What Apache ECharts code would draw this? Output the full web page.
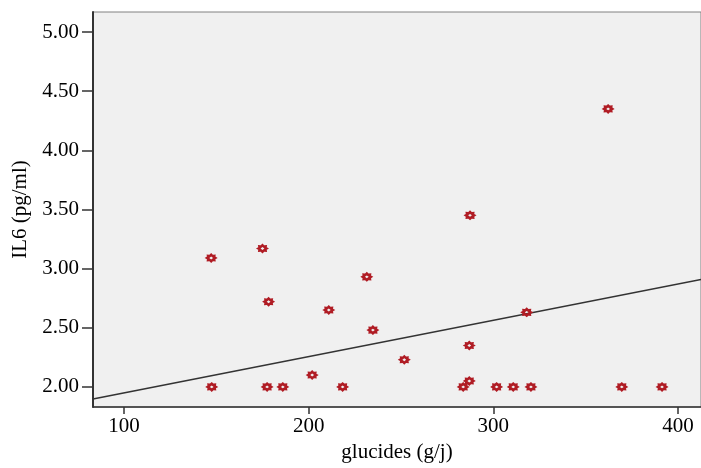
<!DOCTYPE html>
<html>
<head>
<meta charset="utf-8">
<script src="https://cdn.jsdelivr.net/npm/echarts@6/dist/echarts.min.js"></script>
<style>
html,body{margin:0;padding:0;background:#fff;}
#chart{width:701px;height:468px;}
</style>
</head>
<body>
<div id="chart"></div>
<script>
// glucides (g/j)
var glucides = [147.2, 175.0, 178.3, 147.5, 177.5, 186.0, 201.9, 218.4, 210.9, 231.5, 234.8, 251.8,
                287.4, 287.0, 287.0, 283.7, 301.8, 310.8, 320.4, 318.1, 362.2, 369.6, 391.4];
// IL6 (pg/ml)
var il6 = [3.09, 3.17, 2.72, 2.00, 2.00, 2.00, 2.10, 2.00, 2.65, 2.93, 2.48, 2.23,
           3.45, 2.35, 2.05, 2.00, 2.00, 2.00, 2.00, 2.63, 4.35, 2.00, 2.00];
// fit line end points
var fitX = [83.2, 412.5];
var fitY = [1.898, 2.908];
var xTicks = [100, 200, 300, 400];
var yTicks = [2.00, 2.50, 3.00, 3.50, 4.00, 4.50, 5.00];

var points = glucides.map(function (g, i) { return [g, il6[i]]; });
var fitLine = fitX.map(function (x, i) { return [x, fitY[i]]; });

var markerPath = 'path://M24,12 L19.85,15.25 L20.49,20.49 L15.25,19.85 L12,24 L8.75,19.85 L3.51,20.49 L4.15,15.25 L0,12 L4.15,8.75 L3.51,3.51 L8.75,4.15 L12,0 L15.25,4.15 L20.49,3.51 L19.85,8.75 Z M15.5,12 L12,8.5 L8.5,12 L12,15.5 Z';

var font = 'Liberation Serif';
var chart = echarts.init(document.getElementById('chart'), null, {renderer: 'canvas'});
chart.setOption({
  animation: false,
  backgroundColor: '#ffffff',
  grid: {
    left: 93, top: 12, right: 0, bottom: 57,
    show: true, backgroundColor: '#f0f0f0', borderColor: '#808080', borderWidth: 1
  },
  xAxis: {
    type: 'value', min: 83.2, max: 412.5,
    name: 'glucides (g/j)', nameLocation: 'middle', nameGap: 35,
    nameTextStyle: {fontFamily: font, fontSize: 21, color: '#000'},
    axisLine: {show: true, onZero: false, lineStyle: {color: '#333333', width: 1.5}},
    axisTick: {show: true, inside: false, length: 7, customValues: xTicks, lineStyle: {color: '#333333', width: 1.5}},
    axisLabel: {customValues: xTicks, margin: 9, fontFamily: font, fontSize: 21, color: '#000'},
    splitLine: {show: false}
  },
  yAxis: {
    type: 'value', min: 1.83, max: 5.169,
    name: 'IL6 (pg/ml)', nameLocation: 'middle', nameGap: 60, nameRotate: 90,
    nameTextStyle: {fontFamily: font, fontSize: 21, color: '#000'},
    axisLine: {show: true, onZero: false, lineStyle: {color: '#333333', width: 2}},
    axisTick: {show: true, inside: false, length: 11, customValues: yTicks, lineStyle: {color: '#333333', width: 1.5}},
    axisLabel: {customValues: yTicks, margin: 14, fontFamily: font, fontSize: 21, color: '#000',
      formatter: function (v) { return v.toFixed(2); }},
    splitLine: {show: false}
  },
  series: [
    {
      type: 'line', data: fitLine, symbol: 'none', silent: true,
      lineStyle: {color: '#333333', width: 1.5}, z: 2
    },
    {
      type: 'scatter', data: points, symbol: markerPath, symbolSize: [13, 10],
      itemStyle: {color: '#b01c24', opacity: 1}, z: 3
    }
  ]
});
</script>
</body>
</html>
